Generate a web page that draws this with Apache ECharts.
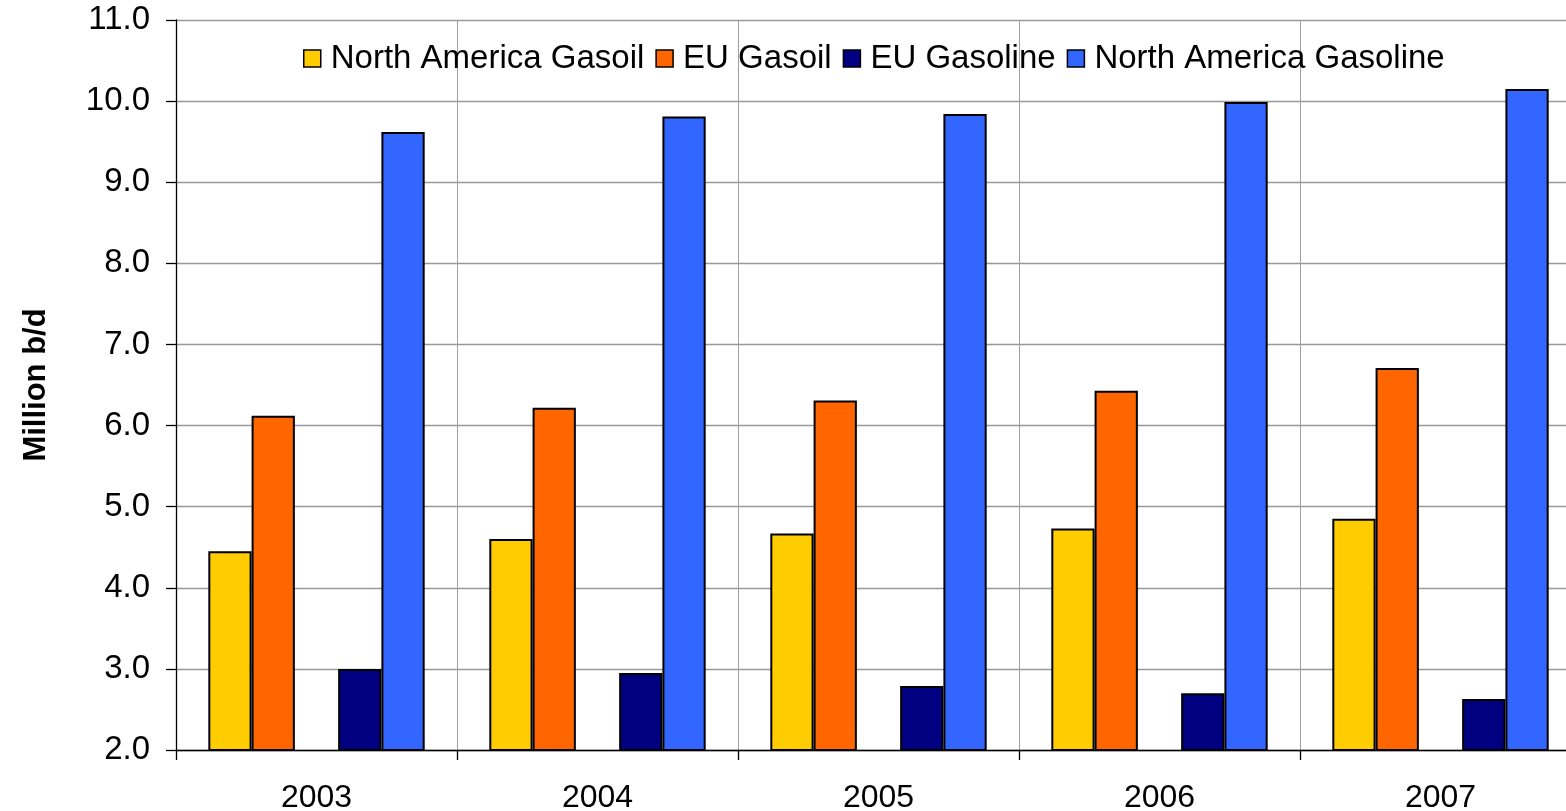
<!DOCTYPE html>
<html>
<head>
<meta charset="utf-8">
<title>Gasoil and Gasoline Demand</title>
<script src="https://cdn.jsdelivr.net/npm/echarts@6/dist/echarts.min.js"></script>
<style>
  html, body { margin: 0; padding: 0; background: #fff; overflow: hidden; }
  /* the plot area runs a little past the right edge of the window */
  #chart { width: 1600px; height: 811px; }
</style>
</head>
<body>
<div id="chart"></div>
<script>
// Demand, million barrels per day
const years = ['2003', '2004', '2005', '2006', '2007'];
const naGasoil = [4.45, 4.60, 4.67, 4.73, 4.85];
const euGasoil = [6.12, 6.22, 6.31, 6.43, 6.71];
const euGasoline = [3.00, 2.95, 2.79, 2.70, 2.63];
const naGasoline = [9.62, 9.81, 9.84, 9.99, 10.15];

const seriesNames = ['North America Gasoil', 'EU Gasoil', 'EU Gasoline', 'North America Gasoline'];
const seriesColors = ['#FFCC00', '#FF6600', '#000080', '#3366FF'];

const FONT = '"Liberation Sans", Arial, Helvetica, sans-serif';

function barSeries(name, data, color) {
  return {
    name: name,
    type: 'bar',
    data: data,
    barGap: '0%',
    barCategoryGap: '23%',
    itemStyle: { color: color, borderColor: '#000', borderWidth: 2 }
  };
}

const chart = echarts.init(document.getElementById('chart'), null, { renderer: 'canvas' });

chart.setOption({
  backgroundColor: '#fff',
  animation: false,
  textStyle: { fontFamily: FONT, color: '#000' },
  grid: { left: 176, right: 19, top: 20, bottom: 61, containLabel: false, outerBoundsMode: 'none' },
  legend: {
    data: seriesNames,
    left: 298,
    top: 37,
    icon: 'rect',
    itemWidth: 17,
    itemHeight: 17,
    itemGap: 11,
    itemStyle: { borderWidth: 1.5 },
    textStyle: { fontFamily: FONT, fontSize: 33, color: '#000', padding: [0, 0, 0, 5] }
  },
  xAxis: {
    type: 'category',
    data: years,
    axisLine: { show: true, lineStyle: { color: '#000', width: 1.3 } },
    axisTick: { show: true, length: 10, lineStyle: { color: '#000', width: 1.3 } },
    axisLabel: { fontFamily: FONT, fontSize: 32, color: '#000', margin: 32 },
    splitLine: { show: true, lineStyle: { color: '#A0A0A0', width: 1 } }
  },
  yAxis: {
    type: 'value',
    min: 2,
    max: 11,
    interval: 1,
    name: 'Million b/d',
    nameLocation: 'middle',
    nameGap: 124,
    nameRotate: 90,
    nameTextStyle: { fontFamily: FONT, fontSize: 31, fontWeight: 'bold', color: '#000' },
    axisLine: { show: true, lineStyle: { color: '#000', width: 1.3 } },
    axisTick: { show: true, length: 10, lineStyle: { color: '#000', width: 1.3 } },
    axisLabel: {
      fontFamily: FONT, fontSize: 33, color: '#000', margin: 26,
      formatter: v => v.toFixed(1)
    },
    splitLine: { show: true, lineStyle: { color: '#999', width: 1.3 } }
  },
  series: [
    barSeries(seriesNames[0], naGasoil, seriesColors[0]),
    barSeries(seriesNames[1], euGasoil, seriesColors[1]),
    // empty slot between the gasoil and gasoline groups
    { type: 'bar', name: '', data: [], barGap: '0%', barCategoryGap: '23%' },
    barSeries(seriesNames[2], euGasoline, seriesColors[2]),
    barSeries(seriesNames[3], naGasoline, seriesColors[3])
  ]
});
</script>
</body>
</html>
